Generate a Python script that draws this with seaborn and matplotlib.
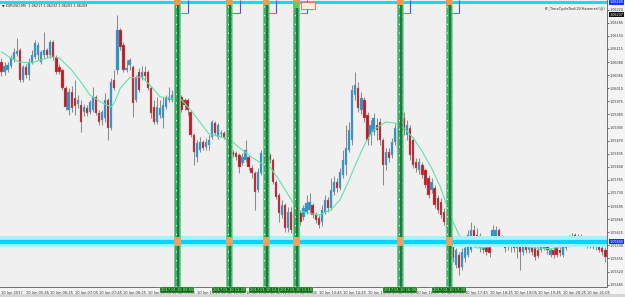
import matplotlib
matplotlib.use("Agg")
import matplotlib.pyplot as plt
import seaborn as sns
import pandas as pd
from matplotlib.patches import Rectangle
from matplotlib.transforms import blended_transform_factory

# ---------------- data (EURUSD M5, 10 Jan 2017, bar 0 = 05:05) ----------------
opens = [
 1.06080, 1.06054, 1.06059, 1.06070, 1.06086, 1.06102, 1.06112, 1.06032, 1.06067, 1.06046,
 1.06080, 1.06094, 1.06099, 1.06080, 1.06099, 1.06112, 1.06099, 1.06134, 1.06094, 1.06067,
 1.06059, 1.06011, 1.05952, 1.06000, 1.05984, 1.05968, 1.05965, 1.05947, 1.05957, 1.05947,
 1.05952, 1.05987, 1.05944, 1.05925, 1.05931, 1.05979, 1.05904, 1.06032, 1.06059, 1.06166,
 1.06126, 1.06059, 1.06072, 1.06067, 1.05979, 1.06054, 1.06038, 1.06054, 1.06054, 1.06011,
 1.05960, 1.05920, 1.05939, 1.05931, 1.05960, 1.05979, 1.05979, 1.06000, 1.05984, 1.05987,
 1.05979, 1.05979, 1.05947, 1.05885, 1.05826, 1.05845, 1.05867, 1.05853, 1.05859, 1.05880,
 1.05917, 1.05880, 1.05888, 1.05891, 1.05896, 1.05877, 1.05840, 1.05837, 1.05832, 1.05810,
 1.05818, 1.05826, 1.05797, 1.05784, 1.05738, 1.05784, 1.05824, 1.05837, 1.05832, 1.05818,
 1.05760, 1.05725, 1.05671, 1.05698, 1.05637, 1.05679, 1.05671, 1.05623, 1.05677, 1.05666,
 1.05679, 1.05685, 1.05698, 1.05671, 1.05663, 1.05653, 1.05679, 1.05712, 1.05690, 1.05733,
 1.05760, 1.05744, 1.05778, 1.05805, 1.05845, 1.05872, 1.05992, 1.06011, 1.05952, 1.05979,
 1.05939, 1.05885, 1.05893, 1.05912, 1.05920, 1.05872, 1.05805, 1.05840, 1.05832, 1.05867,
 1.05904, 1.05859, 1.05931, 1.05885, 1.05904, 1.05872, 1.05813, 1.05792, 1.05805, 1.05792,
 1.05770, 1.05738, 1.05744, 1.05717, 1.05706, 1.05679, 1.05663, 1.05618, 1.05599, 1.05538,
 1.05565, 1.05533, 1.05557, 1.05565, 1.05578, 1.05631, 1.05618, 1.05583, 1.05578, 1.05591,
 1.05586, 1.05597, 1.05613, 1.05631, 1.05610, 1.05599, 1.05586, 1.05597, 1.05591, 1.05583,
 1.05591, 1.05573, 1.05589, 1.05578, 1.05599, 1.05583, 1.05578, 1.05578, 1.05583, 1.05591,
 1.05565, 1.05578, 1.05583, 1.05578, 1.05565, 1.05583, 1.05591, 1.05605, 1.05618, 1.05599,
 1.05613, 1.05599, 1.05591, 1.05605, 1.05599, 1.05591, 1.05589, 1.05583, 1.05578,
]
closes = [
 1.06054, 1.06070, 1.06072, 1.06091, 1.06107, 1.06110, 1.06032, 1.06067, 1.06046, 1.06080,
 1.06099, 1.06131, 1.06126, 1.06107, 1.06112, 1.06099, 1.06134, 1.06094, 1.06054, 1.06054,
 1.06011, 1.05960, 1.06000, 1.05957, 1.05963, 1.05979, 1.05920, 1.05960, 1.05944, 1.05973,
 1.05987, 1.05944, 1.05920, 1.05947, 1.05979, 1.05904, 1.06027, 1.06011, 1.06166, 1.06120,
 1.06059, 1.06064, 1.06086, 1.05971, 1.06038, 1.06006, 1.06054, 1.06043, 1.06011, 1.05944,
 1.05920, 1.05960, 1.05957, 1.05965, 1.05984, 1.05987, 1.05992, 1.05984, 1.05998, 1.05952,
 1.05965, 1.05952, 1.05885, 1.05840, 1.05864, 1.05867, 1.05851, 1.05867, 1.05872, 1.05920,
 1.05891, 1.05912, 1.05891, 1.05880, 1.05877, 1.05837, 1.05832, 1.05826, 1.05800, 1.05826,
 1.05845, 1.05800, 1.05784, 1.05733, 1.05786, 1.05837, 1.05832, 1.05810, 1.05818, 1.05760,
 1.05720, 1.05677, 1.05698, 1.05637, 1.05679, 1.05631, 1.05605, 1.05671, 1.05653, 1.05690,
 1.05704, 1.05706, 1.05671, 1.05658, 1.05645, 1.05685, 1.05712, 1.05690, 1.05738, 1.05760,
 1.05744, 1.05786, 1.05818, 1.05851, 1.05899, 1.06006, 1.06019, 1.05957, 1.05984, 1.05931,
 1.05872, 1.05912, 1.05931, 1.05899, 1.05872, 1.05805, 1.05840, 1.05824, 1.05867, 1.05904,
 1.05851, 1.05931, 1.05899, 1.05912, 1.05832, 1.05805, 1.05797, 1.05813, 1.05778, 1.05752,
 1.05725, 1.05760, 1.05698, 1.05685, 1.05671, 1.05653, 1.05605, 1.05583, 1.05557, 1.05578,
 1.05530, 1.05573, 1.05583, 1.05618, 1.05631, 1.05605, 1.05605, 1.05610, 1.05597, 1.05573,
 1.05570, 1.05631, 1.05631, 1.05605, 1.05599, 1.05583, 1.05597, 1.05586, 1.05583, 1.05594,
 1.05573, 1.05589, 1.05578, 1.05586, 1.05573, 1.05559, 1.05562, 1.05597, 1.05597, 1.05578,
 1.05578, 1.05565, 1.05565, 1.05570, 1.05597, 1.05597, 1.05610, 1.05615, 1.05597, 1.05613,
 1.05597, 1.05605, 1.05610, 1.05591, 1.05586, 1.05586, 1.05578, 1.05573, 1.05559,
]
highs = [
 1.06091, 1.06080, 1.06080, 1.06099, 1.06118, 1.06144, 1.06118, 1.06072, 1.06075, 1.06091,
 1.06112, 1.06139, 1.06134, 1.06112, 1.06160, 1.06118, 1.06139, 1.06139, 1.06099, 1.06075,
 1.06064, 1.06016, 1.06011, 1.06016, 1.06032, 1.05992, 1.05979, 1.05968, 1.05965, 1.05979,
 1.06014, 1.05992, 1.05952, 1.05952, 1.05998, 1.05984, 1.06038, 1.06059, 1.06206, 1.06171,
 1.06134, 1.06086, 1.06091, 1.06072, 1.06046, 1.06064, 1.06070, 1.06070, 1.06059, 1.06016,
 1.05979, 1.05987, 1.05979, 1.05987, 1.05992, 1.06014, 1.06006, 1.06024, 1.06006, 1.05992,
 1.05984, 1.05984, 1.05952, 1.05891, 1.05872, 1.05880, 1.05872, 1.05877, 1.05885, 1.05925,
 1.05923, 1.05917, 1.05899, 1.05896, 1.05901, 1.05883, 1.05845, 1.05843, 1.05837, 1.05837,
 1.05872, 1.05832, 1.05805, 1.05789, 1.05797, 1.05845, 1.05845, 1.05843, 1.05837, 1.05824,
 1.05765, 1.05730, 1.05712, 1.05704, 1.05693, 1.05693, 1.05690, 1.05677, 1.05685, 1.05698,
 1.05725, 1.05730, 1.05704, 1.05679, 1.05671, 1.05698, 1.05725, 1.05720, 1.05770, 1.05776,
 1.05770, 1.05797, 1.05845, 1.05912, 1.05920, 1.06019, 1.06054, 1.06027, 1.06000, 1.05987,
 1.05947, 1.05925, 1.05944, 1.05931, 1.05931, 1.05877, 1.05851, 1.05851, 1.05877, 1.05915,
 1.05952, 1.05965, 1.05947, 1.05925, 1.05912, 1.05880, 1.05824, 1.05824, 1.05813, 1.05797,
 1.05778, 1.05770, 1.05752, 1.05725, 1.05717, 1.05690, 1.05671, 1.05626, 1.05610, 1.05583,
 1.05573, 1.05583, 1.05594, 1.05631, 1.05653, 1.05645, 1.05637, 1.05623, 1.05605, 1.05599,
 1.05594, 1.05645, 1.05642, 1.05637, 1.05618, 1.05605, 1.05605, 1.05605, 1.05599, 1.05605,
 1.05599, 1.05597, 1.05597, 1.05591, 1.05605, 1.05591, 1.05586, 1.05605, 1.05605, 1.05599,
 1.05583, 1.05586, 1.05589, 1.05586, 1.05605, 1.05605, 1.05618, 1.05623, 1.05623, 1.05621,
 1.05621, 1.05613, 1.05615, 1.05613, 1.05605, 1.05599, 1.05597, 1.05591, 1.05586,
]
lows = [
 1.06043, 1.06046, 1.06054, 1.06064, 1.06080, 1.06096, 1.06027, 1.06027, 1.06038, 1.06032,
 1.06075, 1.06088, 1.06086, 1.06075, 1.06091, 1.06091, 1.06091, 1.06086, 1.06048, 1.06048,
 1.06006, 1.05952, 1.05939, 1.05947, 1.05939, 1.05957, 1.05893, 1.05936, 1.05936, 1.05941,
 1.05947, 1.05939, 1.05912, 1.05912, 1.05920, 1.05872, 1.05899, 1.06006, 1.06048, 1.06112,
 1.06054, 1.06054, 1.06059, 1.05933, 1.05973, 1.06000, 1.06032, 1.06032, 1.06006, 1.05931,
 1.05915, 1.05915, 1.05931, 1.05904, 1.05955, 1.05973, 1.05973, 1.05979, 1.05979, 1.05947,
 1.05952, 1.05939, 1.05880, 1.05805, 1.05813, 1.05840, 1.05845, 1.05845, 1.05845, 1.05875,
 1.05885, 1.05875, 1.05880, 1.05875, 1.05872, 1.05832, 1.05826, 1.05818, 1.05784, 1.05805,
 1.05813, 1.05792, 1.05770, 1.05685, 1.05733, 1.05778, 1.05818, 1.05805, 1.05810, 1.05754,
 1.05714, 1.05653, 1.05663, 1.05626, 1.05626, 1.05623, 1.05599, 1.05618, 1.05645, 1.05658,
 1.05674, 1.05679, 1.05663, 1.05650, 1.05637, 1.05642, 1.05674, 1.05679, 1.05685, 1.05725,
 1.05733, 1.05738, 1.05770, 1.05778, 1.05840, 1.05859, 1.05979, 1.05947, 1.05941, 1.05920,
 1.05859, 1.05859, 1.05885, 1.05872, 1.05859, 1.05752, 1.05792, 1.05813, 1.05824, 1.05859,
 1.05840, 1.05845, 1.05885, 1.05872, 1.05818, 1.05797, 1.05786, 1.05781, 1.05770, 1.05744,
 1.05717, 1.05730, 1.05690, 1.05677, 1.05663, 1.05645, 1.05597, 1.05573, 1.05546, 1.05530,
 1.05511, 1.05525, 1.05546, 1.05559, 1.05573, 1.05597, 1.05591, 1.05573, 1.05570, 1.05565,
 1.05559, 1.05589, 1.05605, 1.05599, 1.05591, 1.05573, 1.05578, 1.05573, 1.05573, 1.05557,
 1.05525, 1.05565, 1.05570, 1.05570, 1.05565, 1.05551, 1.05557, 1.05573, 1.05578, 1.05567,
 1.05559, 1.05557, 1.05559, 1.05562, 1.05559, 1.05578, 1.05586, 1.05597, 1.05591, 1.05594,
 1.05591, 1.05591, 1.05583, 1.05583, 1.05581, 1.05578, 1.05573, 1.05565, 1.05546,
]

# moving average (bar index, price)
ma_bars = [0, 3, 6, 10, 13, 16, 19, 23, 26, 29, 33, 36, 37, 39, 42, 46, 49, 52, 55, 59,
           62, 65, 68, 72, 75, 78, 82, 85, 88, 91, 95, 97, 100, 104, 108, 111, 114, 116,
           119, 122, 126, 129, 132, 135, 138, 141, 144, 147, 150, 153, 156, 160, 165,
           170, 175, 180, 185, 190, 195, 198]
ma_values = [1.06107, 1.06091, 1.06080, 1.06078, 1.06086, 1.06094, 1.06091, 1.06059,
             1.06027, 1.05992, 1.05971, 1.05960, 1.05971, 1.06011, 1.06038, 1.06040,
             1.06016, 1.05987, 1.05984, 1.05979, 1.05952, 1.05920, 1.05888, 1.05880,
             1.05872, 1.05851, 1.05826, 1.05810, 1.05800, 1.05765, 1.05712, 1.05685,
             1.05677, 1.05671, 1.05685, 1.05712, 1.05765, 1.05805, 1.05859, 1.05899,
             1.05920, 1.05917, 1.05904, 1.05877, 1.05840, 1.05797, 1.05744, 1.05671,
             1.05618, 1.05591, 1.05583, 1.05586, 1.05594, 1.05589, 1.05583, 1.05581,
             1.05589, 1.05599, 1.05597, 1.05589]

time_labels = ["10 Jan 2017", "10 Jan 05:45", "10 Jan 06:25", "10 Jan 07:05", "10 Jan 07:45",
               "10 Jan 08:25", "10 Jan 09:05", "10 Jan 09:45", "10 Jan 10:25", "10 Jan 11:05",
               "10 Jan 11:45", "10 Jan 12:25", "10 Jan 13:05", "10 Jan 13:45", "10 Jan 14:25",
               "10 Jan 15:05", "10 Jan 15:45", "10 Jan 16:25", "10 Jan 17:05", "10 Jan 17:45",
               "10 Jan 18:25", "10 Jan 19:05", "10 Jan 19:45", "10 Jan 20:25", "10 Jan 21:05"]
time_label_bars = [0, 8, 16, 24, 32, 40, 48, 56, 64, 72, 80, 88, 96, 104, 112, 120, 128,
                   136, 144, 152, 160, 168, 176, 184, 192]

price_ticks = [1.06220, 1.06185, 1.06150, 1.06115, 1.06080, 1.06045, 1.06010, 1.05975,
               1.05940, 1.05905, 1.05870, 1.05835, 1.05800, 1.05765, 1.05730, 1.05695,
               1.05660, 1.05625, 1.05590, 1.05555, 1.05520, 1.05485]

cycle_bars = [58, 75, 87, 97, 131, 147]
cycle_labels = ["2017.01.10 09:55", "2017.01.10 11:20", "2017.01.10 12:20",
                "2017.01.10 13:10", "2017.01.10 16:00", "2017.01.10 17:20"]

level_price = 1.05600
top_level_price = 1.06240
bid_price = 1.06207
header_text = "\u25bc EURUSD,M5  1.06217 1.06232 1.06203 1.06209"
indicator_text = "EF_TimeCycleTool(2)(Hammer)(@)"

# ---------------- drawing ----------------
sns.set_theme(style="white")
plt.rcParams["font.family"] = ["DejaVu Sans"]

W, H = 625, 297
fig = plt.figure(figsize=(W / 100, H / 100), dpi=100, facecolor="#f4f4f4")
ax_h = 286.5 / H
ax = fig.add_axes([0, 1 - ax_h, 607 / W, ax_h])
ax.set_facecolor("#f0f0f0")
ax.set_xlim(-0.49, 198.52)
ax.set_ylim(1.05480, 1.06246)

df = pd.DataFrame({"bar": range(len(opens)), "open": opens, "close": closes,
                   "high": highs, "low": lows})
df["bull"] = df["close"] >= df["open"]

bull_c, bear_c, wick_c = "#1f95d6", "#c9161d", "#8b8b8b"

# wicks
ax.vlines(df["bar"], df["low"], df["high"], color=wick_c, lw=0.75, zorder=2)
# bodies
diff = df["close"] - df["open"]
body_h = diff.where(diff.abs() > 0.000015, 0.000015)
ax.bar(df["bar"], body_h, bottom=df["open"], width=0.74,
       color=[bull_c if b else bear_c for b in df["bull"]],
       edgecolor="#9a9a9a", linewidth=0.25, zorder=3)

# moving average
sns.lineplot(x=ma_bars, y=ma_values, ax=ax, color="#5fe3a6", lw=0.8, zorder=4)

# horizontal levels
ax.axhspan(level_price - 0.00015, level_price + 0.00015, color="#a6f2fb", lw=0, zorder=5)
ax.axhline(level_price, color="#00d6ff", lw=3.0, zorder=5)
ax.axhline(top_level_price, color="#00e1ff", lw=2.2, zorder=5)

# vertical time-cycle bars
for b in cycle_bars:
    c = b - 0.35
    ax.axvspan(c - 1.07, c + 1.07, color="#3aab63", lw=0, zorder=6, alpha=0.95)
    ax.axvline(c - 1.0, color="#7dd49a", lw=0.6, zorder=6)
    ax.axvline(c + 1.0, color="#7dd49a", lw=0.6, zorder=6)
    ax.axvline(c + 0.3, color="#0f6b2f", lw=1.1, zorder=7)
    ax.axvline(c - 0.45, color="white", lw=0.6, ls=(0, (1.5, 9)), zorder=7)
    ax.axvline(c + 0.75, color="#d8f5e0", lw=0.4, ls=(3, (1.0, 9)), zorder=7)
    # orange markers where levels cross
    ax.add_patch(Rectangle((c - 1.07, level_price - 0.00012), 2.14, 0.00024,
                           color="#f0a25a", lw=0, zorder=8))
    ax.add_patch(Rectangle((c - 1.07, 1.06232), 2.14, 0.00014,
                           color="#e89a56", lw=0, zorder=8))
    # small box at the top right of each bar
    x0, x1 = c + 1.07, c + 3.4
    ax.plot([x0, x1], [1.06212, 1.06212], color="#ff5a5a", lw=0.8, zorder=8,
            solid_capstyle="butt")
    ax.plot([x1, x1], [1.06212, 1.06246], color="#4b4bff", lw=0.8, zorder=8,
            solid_capstyle="butt")

# label box next to the fourth cycle bar
c4 = cycle_bars[3] - 0.35
ax.add_patch(Rectangle((c4 + 1.6, 1.06222), 4.6, 0.00019, fc="#f3f0dc", ec="#f06060",
                       lw=0.6, zorder=9))
ax.add_patch(Rectangle((c4 - 1.0, 1.06224), 2.0, 0.00017, fc="#66c95a", lw=0, zorder=9))

# axes styling
for s in ["top", "left"]:
    ax.spines[s].set_visible(False)
for s in ["right", "bottom"]:
    ax.spines[s].set_color("#5a5a5a")
    ax.spines[s].set_linewidth(0.6)

ax.yaxis.tick_right()
ax.set_yticks(price_ticks)
ax.set_yticklabels([f"{p:.5f}" for p in price_ticks])
ax.tick_params(axis="y", length=1.5, width=0.5, pad=0.6, labelsize=2.4, colors="#333333",
               direction="out")
ax.set_xticks(time_label_bars)
ax.set_xticklabels(time_labels)
ax.tick_params(axis="x", length=2, width=0.5, pad=1, labelsize=2.6, colors="#333333",
               direction="out")
for lbl in ax.get_xticklabels():
    lbl.set_horizontalalignment("left")
ax.set_xlabel("")
ax.set_ylabel("")
ax.grid(False)

# price boxes on right scale
ty = blended_transform_factory(ax.transAxes, ax.transData)
for price, fc in [(top_level_price, "#1530ff"), (bid_price, "#111111"),
                  (level_price, "#1530ff")]:
    ax.text(1.0045, price, f"{price:.5f}", transform=ty, fontsize=2.4, color="white",
            va="center", ha="left", zorder=20, clip_on=False,
            bbox=dict(boxstyle="square,pad=0.2", fc=fc, ec="none"))

# green time labels under the cycle bars
tx = blended_transform_factory(ax.transData, ax.transAxes)
for b, lab in zip(cycle_bars, cycle_labels):
    ax.text(b - 0.35, -0.0135, lab, transform=tx, fontsize=2.6, color="#c9f7c9",
            va="center", ha="center", zorder=20, clip_on=False,
            bbox=dict(boxstyle="square,pad=0.25", fc="#0d6a12", ec="#c8e8c8", lw=0.3))

# header texts
ax.text(0.004, 0.988, header_text, transform=ax.transAxes, fontsize=2.4,
        color="#222222", va="top", ha="left", zorder=20)
ax.text(0.997, 0.975, indicator_text, transform=ax.transAxes, fontsize=2.5,
        color="#222222", va="top", ha="right", zorder=20)

# bottom strip line
fig.add_artist(Rectangle((0, 0), 1, 3 / H, transform=fig.transFigure,
                         color="#d6d6d6", lw=0))

fig.savefig("out.png", dpi=100, facecolor=fig.get_facecolor())
